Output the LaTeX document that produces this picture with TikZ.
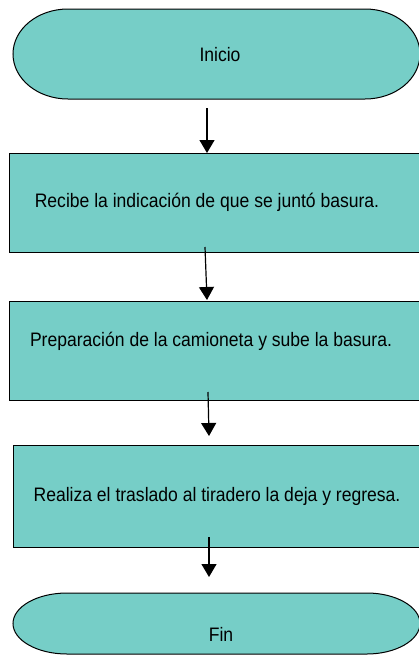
\documentclass[tikz,border=0pt]{standalone}
\usepackage{fontspec}
\setmainfont[FakeStretch=0.9]{Liberation Sans}
\usetikzlibrary{arrows.meta}
\definecolor{boxfill}{RGB}{118,206,199}
\begin{document}
\begin{tikzpicture}[x=1pt,y=-1pt,
  shapefill/.style={fill=boxfill, draw=black, line width=1pt},
  procbox/.style={shapefill, rectangle, inner sep=0pt, anchor=north west},
  lbl/.style={font=\fontsize{19.5}{23}\selectfont, inner sep=0pt},
  flow/.style={line width=1.2pt, -{Triangle[width=15pt,length=13pt]}}]
\useasboundingbox (0,0) rectangle (419,656);
\clip (0,0) rectangle (419,656);
% start terminator
\path[shapefill] (68,9) -- (365,9)
  .. controls (395.4,9) and (420,29.1) .. (420,54)
  .. controls (420,78.9) and (395.4,99) .. (365,99)
  -- (68,99)
  .. controls (37.6,99) and (13,78.9) .. (13,54)
  .. controls (13,29.1) and (37.6,9) .. (68,9) -- cycle;
\node[lbl] (inicio) at (220,55) {Inicio};
% process boxes
\node[procbox, minimum width=421pt, minimum height=99pt] (b1) at (9,153) {};
\node[lbl] (t1) at (207,202) {Recibe la indicación de que se juntó basura.};
\node[procbox, minimum width=421pt, minimum height=99pt] (b2) at (9,301) {};
\node[lbl] (t2) at (211,341) {Preparación de la camioneta y sube la basura.};
\node[procbox, minimum width=417pt, minimum height=102pt] (b3) at (13,445) {};
\node[lbl] (t3) at (217,496) {Realiza el traslado al tiradero la deja y regresa.};
% end terminator
\path[shapefill] (67,593) -- (367,593)
  .. controls (395.7,593) and (420,606.7) .. (420,623.5)
  .. controls (420,640.3) and (395.7,654) .. (367,654)
  -- (67,654)
  .. controls (37.2,654) and (13,640.3) .. (13,623.5)
  .. controls (13,606.7) and (37.2,593) .. (67,593) -- cycle;
\node[lbl] (fin) at (221,634) {Fin};
% connectors
\coordinate (c1s) at (207,108);
\coordinate (c1e) at (207,153);
\coordinate (c2s) at (205,247);
\coordinate (c2e) at (207,300);
\coordinate (c3s) at (208,392);
\coordinate (c3e) at (209,436);
\coordinate (c4s) at (209,537);
\coordinate (c4e) at (209,577);
\draw[flow] (c1s) -- (c1e);
\draw[flow] (c2s) -- (c2e);
\draw[flow] (c3s) -- (c3e);
\draw[flow] (c4s) -- (c4e);
\end{tikzpicture}
\end{document}
